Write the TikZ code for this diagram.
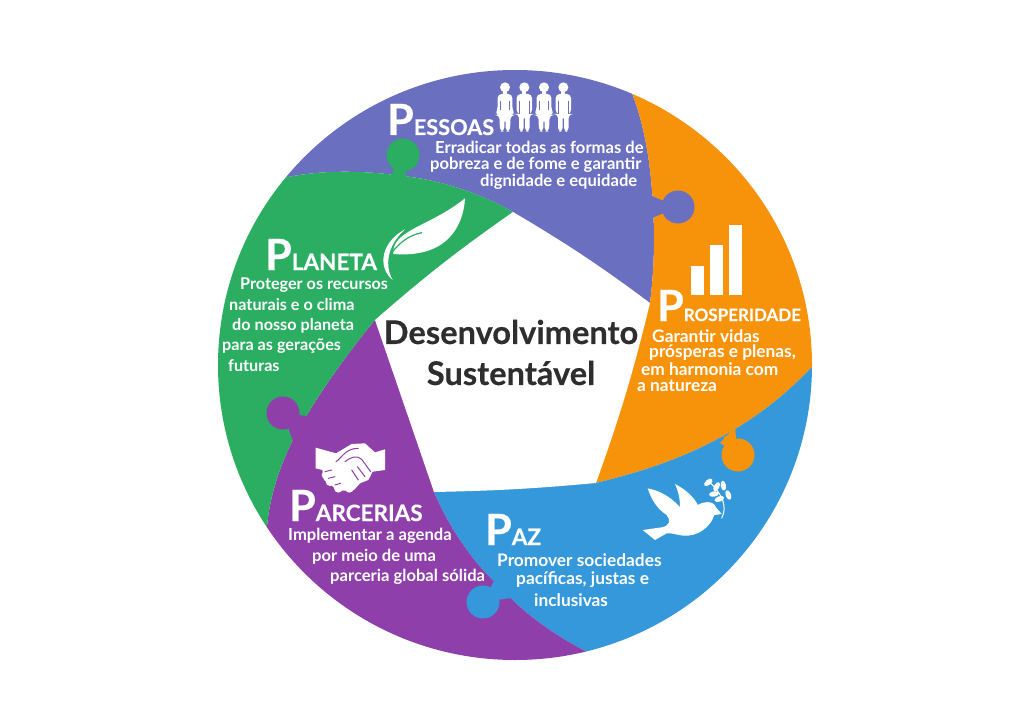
\documentclass[tikz,border=0pt]{standalone}
\usepackage{fontspec}
\setmainfont{Lato}
\newfontfamily\heavyfont[UprightFont=* Bold,FakeBold=0.4]{Lato}
\usetikzlibrary{calc}
\definecolor{pessoascol}{HTML}{6A6FBF}
\definecolor{prosperidadecol}{HTML}{F7930B}
\definecolor{pazcol}{HTML}{3498DA}
\definecolor{parceriascol}{HTML}{8E3FA9}
\definecolor{planetacol}{HTML}{2BAE62}
\definecolor{titlecol}{HTML}{2E2E2E}
\newcommand{\heading}[3][22.5]{{\fontsize{43}{43}\selectfont #2}{\fontsize{#1}{#1}\selectfont #3}}
\tikzset{
    headnode/.style={anchor=base west,inner sep=0pt,text=white,font=\heavyfont},
    bodynode/.style={anchor=west,inner sep=0pt,text=white,font=\fontsize{#1}{#1}\selectfont\bfseries},
    titlenode/.style={inner sep=0pt,text=titlecol,font=\fontsize{32.6}{32.6}\selectfont\heavyfont},
}
\begin{document}
\begin{tikzpicture}[x=1pt,y=-1pt]
    \useasboundingbox (0,0) rectangle (1024,719);
    \coordinate (vtop) at (513,212);
    \coordinate (vright) at (650,303);
    \coordinate (vlowr) at (596,483);
    \coordinate (vlowl) at (434,492);
    \coordinate (vleft) at (375,320);
    \coordinate (mid) at (515,365);
    \begin{scope}
        \clip (mid) ellipse (297 and 295);
        \fill[pessoascol] (vtop) .. controls (480,193) and (440,180) .. (403,176) .. controls (360,170) and (320,170) .. (283,178)
            -- (200,40) -- (640,20) -- (630,88) .. controls (645,125) and (651,165) .. (653,207) .. controls (655,240) and (654,270) .. (vright) -- (mid) -- cycle;
        \fill[prosperidadecol] (vright) .. controls (654,270) and (655,240) .. (653,207) .. controls (651,165) and (645,125) .. (630,88)
            -- (640,20) -- (900,100) -- (900,368) -- (811,368) .. controls (785,395) and (760,415) .. (725,435) .. controls (680,460) and (640,472) .. (vlowr) -- (mid) -- cycle;
        \fill[pazcol] (vlowr) .. controls (640,472) and (680,460) .. (725,435) .. controls (760,415) and (785,395) .. (811,368)
            -- (900,368) -- (900,700) -- (585,700) -- (585,651) .. controls (555,635) and (525,615) .. (500,587) .. controls (475,565) and (450,530) .. (vlowl) -- (mid) -- cycle;
        \fill[parceriascol] (vlowl) .. controls (450,530) and (475,565) .. (500,587) .. controls (525,615) and (555,635) .. (585,651)
            -- (585,700) -- (200,700) -- (200,527) -- (267,527) .. controls (270,490) and (285,450) .. (307,415) .. controls (325,385) and (350,350) .. (vleft) -- (mid) -- cycle;
        \fill[planetacol] (vleft) .. controls (350,350) and (325,385) .. (307,415) .. controls (285,450) and (270,490) .. (267,527)
            -- (200,527) -- (150,100) -- (283,178) .. controls (320,170) and (360,170) .. (403,176) .. controls (440,180) and (480,193) .. (vtop) -- (mid) -- cycle;
    \end{scope}
    % white middle
    \fill[white] (vtop) to[bend left=3] (vright) to[bend left=3] (vlowr) to[bend left=2] (vlowl) to (vleft) to[bend left=3] (vtop) -- cycle;
    % knobs
    \foreach \kx/\ky/\kcol/\ax/\ay/\bx/\by in {
        403/155/planetacol/389/178/407/180,
        678/207/pessoascol/652/196/652/218,
        738/455/prosperidadecol/720/443/735/427,
        483/602/pazcol/495/579/511/598,
        283/413/parceriascol/307/416/293/441}
        {\fill[\kcol] (\kx,\ky) circle (16.5);
         \fill[\kcol] (\ax,\ay) .. controls ($(\ax,\ay)!.5!(\kx,\ky)$) .. (\kx,\ky) .. controls ($(\bx,\by)!.5!(\kx,\ky)$) .. (\bx,\by) -- cycle;
         \draw[\kcol,line width=9pt] ($(\ax,\ay)!.5!(\bx,\by)$) -- (\kx,\ky);}
    % people
    \begin{scope}[shift={(370,70)},scale=1/3]
        \foreach \px in {405,522} {
            \begin{scope}[shift={(\px,0)}]
                \fill[white] (0,52) circle (15);
                \fill[white] (-6,60) rectangle (6,78);
                \fill[white,rounded corners=4] (-22,120) -- (-22,72) -- (22,72) -- (22,120) -- (30,135) -- (17,135) -- (15,185) -- (2,185) -- (2,145) -- (-2,145) -- (-2,185) -- (-15,185) -- (-17,135) -- (-30,135) -- cycle;
                \draw[pessoascol,line width=.5pt] (-13,92) -- (-13,120) (13,92) -- (13,120);
            \end{scope}}
        \foreach \px in {463,580} {
            \begin{scope}[shift={(\px,0)}]
                \fill[white] (0,52) circle (15);
                \fill[white] (-6,60) rectangle (6,78);
                \fill[white,rounded corners=4] (-23,132) -- (-23,72) -- (23,72) -- (23,132) -- (16,132) -- (16,185) -- (2,185) -- (2,135) -- (-2,135) -- (-2,185) -- (-16,185) -- (-16,132) -- cycle;
                \draw[pessoascol,line width=.5pt] (-14,92) -- (-14,132) (14,92) -- (14,132);
            \end{scope}}
    \end{scope}
    % leaf
    \begin{scope}[shift={(370,70)},scale=1/3]
        \fill[white] (70,552) .. controls (65,480) and (180,470) .. (285,385) .. controls (280,470) and (230,565) .. (70,552) -- cycle;
        \draw[planetacol,line width=1.2pt,line cap=round] (155,488) .. controls (120,495) and (90,515) .. (62,552);
        \fill[white] (105,478) .. controls (35,515) and (20,590) .. (68,630) .. controls (45,590) and (48,530) .. (105,478) -- cycle;
    \end{scope}
    % bars
    \begin{scope}[shift={(590,200)},scale=1/3]
        \fill[white] (302,198) rectangle (342,285);
        \fill[white] (360,135) rectangle (398,285);
        \fill[white] (417,75) rectangle (456,285);
    \end{scope}
    % dove
    \begin{scope}[shift={(470,420)},scale=1/3]
        \fill[white] (533,205) .. controls (585,215) and (615,245) .. (630,262) .. controls (630,235) and (625,215) .. (615,192)
            .. controls (650,210) and (675,235) .. (683,255) .. controls (700,245) and (730,240) .. (738,262) -- (755,282) -- (733,285)
            .. controls (720,325) and (680,350) .. (640,347) .. controls (620,345) and (605,338) .. (590,340) -- (555,360) -- (518,330) -- (575,322)
            .. controls (600,318) and (603,300) .. (590,285) .. controls (560,265) and (545,240) .. (533,205) -- cycle;
        \draw[white,line width=1pt] (755,295) .. controls (772,260) and (760,225) .. (715,183);
        \foreach \lx/\ly/\lang in {715/187/40,740/200/60,760/197/100,732/222/10,775/225/110,748/237/20}
            \fill[white,rotate around={\lang:(\lx,\ly)}] (\lx,\ly) ellipse (15 and 8);
    \end{scope}
    % handshake
    \begin{scope}[shift={(250,420)},scale=1/3]
        \fill[white] (197,83) -- (258,100) -- (305,72) -- (345,70) -- (375,97) -- (405,88) -- (405,150) -- (368,155) -- (355,180) -- (330,190) -- (312,210) -- (290,212) -- (262,212) -- (240,192) -- (222,180) -- (217,150) -- (197,145) -- cycle;
        \foreach \hx/\hy in {228/165,240/185,265/205,298/205}
            \fill[white] (\hx,\hy) circle (13);
        \draw[parceriascol,line width=1pt,line cap=round] (258,125) .. controls (275,115) and (285,85) .. (325,85) (285,125) .. controls (305,110) and (320,105) .. (335,118) -- (362,155) (322,140) -- (345,170) (305,150) -- (325,180) (245,150) -- (225,155) (255,170) -- (235,175) (272,190) -- (255,195);
    \end{scope}
    % labels
    \node[headnode] (pessoashead) at (387,135) {\heading[21.7]{P}{ESSOAS}};
    \foreach \tx/\ty/\tline [count=\i] in {435/147/{Erradicar todas as formas de},430/165/{pobreza e de fome e garantir},480/182/{dignidade e equidade}}
        \node[bodynode=16.6] (pessoas\i) at (\tx,\ty) {\tline};
    \node[headnode] (planetahead) at (265,270) {\heading{P}{LANETA}};
    \foreach \tx/\ty/\tline [count=\i] in {240/285/{Proteger os recursos},229/305/{naturais e o clima},232/326/{do nosso planeta},222/346/{para as gerações},228/366/{futuras}}
        \node[bodynode=16.2] (planeta\i) at (\tx,\ty) {\tline};
    \node[headnode] (prosphead) at (657,321) {\heading[17]{P}{ROSPERIDADE}};
    \foreach \tx/\ty/\tline [count=\i] in {652/336/{Garantir vidas},649/353/{prósperas e plenas,},641/369/{em harmonia com},637/386/{a natureza}}
        \node[bodynode=17.3] (prosp\i) at (\tx,\ty) {\tline};
    \node[headnode] (pazhead) at (485,545) {\heading{P}{AZ}};
    \foreach \tx/\ty/\tline [count=\i] in {497/560/{Promover sociedades},516/580/{pacíficas, justas e},534/600/{inclusivas}}
        \node[bodynode=17.3] (paz\i) at (\tx,\ty) {\tline};
    \node[headnode] (parchead) at (289,521) {\heading{P}{ARCERIAS}};
    \foreach \tx/\ty/\tline [count=\i] in {288/536/{Implementar a agenda},312/557/{por meio de uma},330/577/{parceria global sólida}}
        \node[bodynode=16.6] (parc\i) at (\tx,\ty) {\tline};
    \node[titlenode] (title1) at (511,332) {Desenvolvimento};
    \node[titlenode] (title2) at (511,373) {Sustentável};
\end{tikzpicture}
\end{document}
